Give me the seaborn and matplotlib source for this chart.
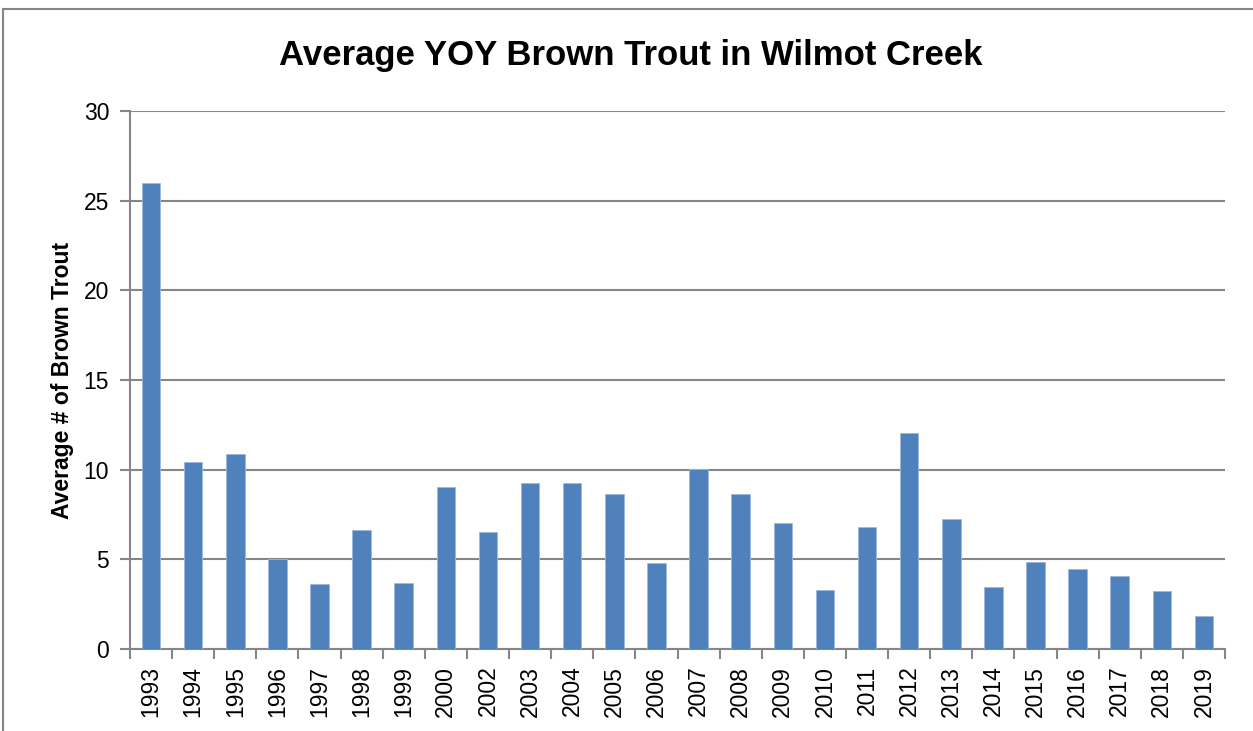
import matplotlib
matplotlib.use("Agg")
import matplotlib.pyplot as plt
import seaborn as sns
import pandas as pd
from matplotlib.patches import Rectangle

years = ["1993", "1994", "1995", "1996", "1997", "1998", "1999", "2000", "2002",
         "2003", "2004", "2005", "2006", "2007", "2008", "2009", "2010", "2011",
         "2012", "2013", "2014", "2015", "2016", "2017", "2018", "2019"]
avg_trout = [26.0, 10.45, 10.85, 5.0, 3.65, 6.65, 3.7, 9.05, 6.55,
             9.25, 9.25, 8.65, 4.8, 10.05, 8.65, 7.05, 3.3, 6.8,
             12.05, 7.25, 3.45, 4.85, 4.45, 4.05, 3.25, 1.85]
y_ticks = [0, 5, 10, 15, 20, 25, 30]

df = pd.DataFrame({"year": years, "avg": avg_trout})

sns.set_style("white")
plt.rcParams["font.family"] = ["Liberation Sans", "DejaVu Sans"]
plt.rcParams["text.color"] = "black"
plt.rcParams["xtick.labelcolor"] = "black"
plt.rcParams["ytick.labelcolor"] = "black"
plt.rcParams["axes.labelcolor"] = "black"

grid_col = "#868686"
bar_col = "#4F81BD"

fig = plt.figure(figsize=(12.53, 7.31), dpi=100)
ax = fig.add_axes([130 / 1253, 1 - 649 / 731, 1095 / 1253, 538 / 731])

sns.barplot(data=df, x="year", y="avg", color=bar_col, width=0.44,
            saturation=1, edgecolor="#9DB9DE", linewidth=0.6, ax=ax, zorder=3)

ax.set_xlim(-0.5, len(years) - 0.5)
ax.set_ylim(0, 30)
ax.set_yticks(y_ticks)
ax.yaxis.grid(True, color=grid_col, linewidth=1.5, zorder=0)
ax.set_axisbelow(True)

ax.set_xticks(range(len(years)))
ax.set_xticklabels(years, rotation=90, fontsize=16.5)
ax.set_xticks([i - 0.5 for i in range(len(years) + 1)], minor=True)
ax.tick_params(axis="x", which="major", length=0, pad=12)
ax.tick_params(axis="x", which="minor", length=7, width=1.5, color=grid_col, direction="out", bottom=True)
ax.tick_params(axis="y", length=7, width=1.5, color=grid_col, direction="out", left=True, labelsize=16.5, pad=8)

for s in ["top", "right"]:
    ax.spines[s].set_visible(False)
for s in ["left", "bottom"]:
    ax.spines[s].set_color(grid_col)
    ax.spines[s].set_linewidth(1.5)

ax.set_xlabel("")
ax.set_ylabel("Average # of Brown Trout", fontsize=16.5, fontweight="bold", labelpad=7)
fig.text(631 / 1253, 1 - 55 / 731, "Average YOY Brown Trout in Wilmot Creek",
         ha="center", va="center", fontsize=25, fontweight="bold")

fig.add_artist(Rectangle((3 / 1253, -0.01), 1.2, 1 - 9 / 731 + 0.01, transform=fig.transFigure,
                         fill=False, edgecolor=grid_col, linewidth=1.5))

fig.savefig("out.png", dpi=100)
